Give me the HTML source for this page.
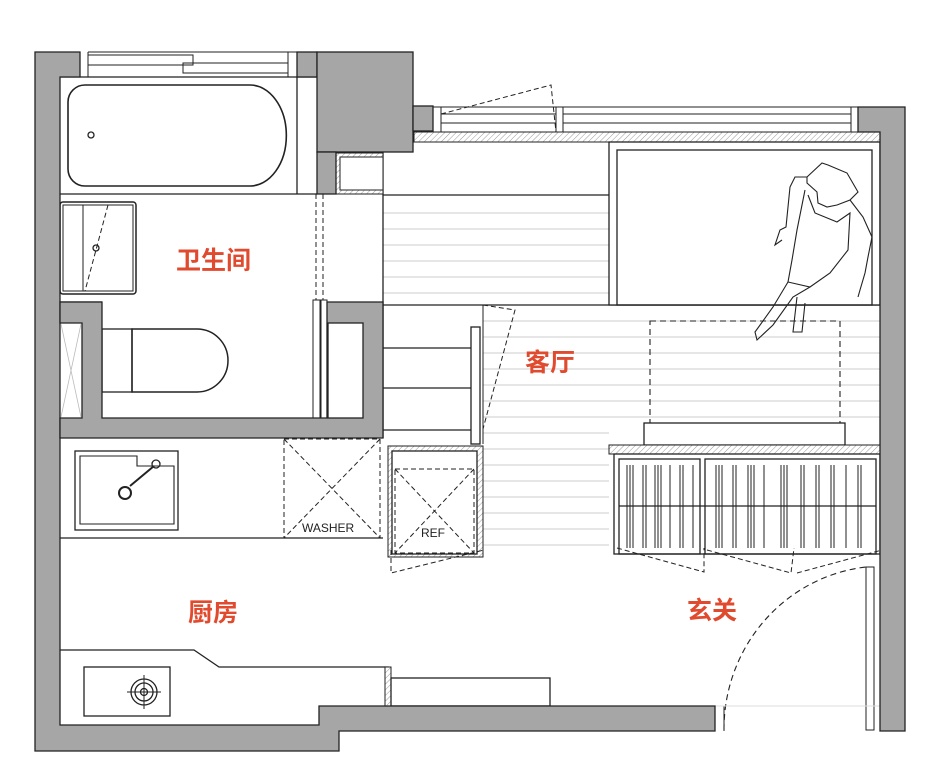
<!DOCTYPE html>
<html><head><meta charset="utf-8"><style>
html,body{margin:0;padding:0;background:#fff;}
svg{display:block;}
.t{font-family:"Liberation Sans","Noto Sans CJK SC",sans-serif;fill:#e04a2e;font-size:25px;font-weight:bold;}
.s{font-family:"Liberation Sans",sans-serif;fill:#222;font-size:12px;}
</style></head><body>
<svg width="930" height="782" viewBox="0 0 930 782" xmlns="http://www.w3.org/2000/svg">
<defs>
<pattern id="h" width="4" height="4" patternUnits="userSpaceOnUse" patternTransform="rotate(45)">
<rect width="4" height="4" fill="#fff"/><line x1="0" y1="0" x2="0" y2="4" stroke="#999" stroke-width="1"/>
</pattern>
</defs>
<rect width="930" height="782" fill="#fff"/>
<g fill="none" stroke="#222" stroke-width="1.3">
<g stroke="#ccc" stroke-width="1">
<line x1="383" y1="213" x2="609" y2="213"/><line x1="383" y1="229" x2="609" y2="229"/><line x1="383" y1="245" x2="609" y2="245"/><line x1="383" y1="261" x2="609" y2="261"/><line x1="383" y1="277" x2="609" y2="277"/><line x1="383" y1="293" x2="609" y2="293"/>
<line x1="483" y1="321" x2="880" y2="321"/><line x1="483" y1="337" x2="880" y2="337"/><line x1="483" y1="353" x2="880" y2="353"/><line x1="483" y1="369" x2="880" y2="369"/><line x1="483" y1="385" x2="880" y2="385"/><line x1="483" y1="401" x2="880" y2="401"/><line x1="483" y1="417" x2="880" y2="417"/><line x1="483" y1="433" x2="609" y2="433"/>
<line x1="483" y1="449" x2="609" y2="449"/><line x1="483" y1="465" x2="609" y2="465"/><line x1="483" y1="481" x2="609" y2="481"/><line x1="483" y1="497" x2="609" y2="497"/><line x1="483" y1="513" x2="609" y2="513"/><line x1="483" y1="529" x2="609" y2="529"/><line x1="483" y1="545" x2="609" y2="545"/>
</g>
<line x1="383" y1="195" x2="609" y2="195"/>
<line x1="383" y1="305" x2="880" y2="305"/>
<line x1="383" y1="152" x2="383" y2="438"/>
<line x1="383" y1="348" x2="471" y2="348"/><line x1="383" y1="388" x2="471" y2="388"/><line x1="383" y1="430" x2="471" y2="430"/>
<rect x="471" y="327" width="9" height="117"/>
<line x1="483" y1="305" x2="483" y2="444" stroke-width="1"/>
<polyline points="483,305 515,310 483,429" stroke-dasharray="5,3" stroke-width="1"/>
<rect x="414" y="132" width="466" height="10" fill="url(#h)" stroke-width="1"/>
<line x1="433" y1="107" x2="858" y2="107" stroke-width="1"/>
<line x1="441" y1="114" x2="851" y2="114" stroke-width="1"/>
<line x1="441" y1="123" x2="851" y2="123" stroke-width="1"/>
<line x1="441" y1="107" x2="441" y2="132" stroke-width="1"/>
<line x1="851" y1="107" x2="851" y2="132" stroke-width="1"/>
<rect x="556" y="107" width="7" height="25" fill="#fff" stroke-width="1"/>
<polyline points="441,114 551,85 556,132" stroke-dasharray="5,3" stroke-width="1"/>
<rect x="609" y="142" width="271" height="163" fill="#fff"/>
<rect x="617" y="150" width="255" height="155"/>
<rect x="650" y="321" width="190" height="102" stroke-dasharray="6,4" stroke-width="1.1"/>
<rect x="644" y="423" width="201" height="22" fill="#fff"/>
<rect x="609" y="445" width="271" height="9" fill="url(#h)" stroke-width="1"/>
<rect x="614" y="454" width="266" height="100" fill="#fff"/>
<rect x="619" y="459" width="81" height="95"/>
<rect x="705" y="459" width="171" height="95"/>
<line x1="619" y1="506" x2="876" y2="506"/>
<g stroke-width="1">
<path d="M627 465V548M630 465V548M633 465V548M643 465V548M646 465V548M655 465V548M658 465V548M661 465V548M670 465V548M680 465V548M683 465V548M693 465V548M716 465V548M719 465V548M722 465V548M733 465V548M736 465V548M748 465V548M751 465V548M754 465V548M764 465V548M781 465V548M784 465V548M787 465V548M801 465V548M804 465V548M816 465V548M819 465V548M831 465V548M834 465V548M846 465V548M858 465V548M861 465V548"/>
</g>
<g stroke-dasharray="5,3" stroke-width="1">
<polyline points="617,548 704,572 704,548"/>
<polyline points="707,550 791,573 794,548"/>
<polyline points="797,573 882,550"/>
</g>
<rect x="388" y="446" width="95" height="111" fill="url(#h)" stroke-width="1"/>
<rect x="392" y="451" width="85" height="103" fill="#fff"/>
<rect x="395" y="469" width="79" height="84" stroke-dasharray="5,3" stroke-width="1"/>
<line x1="395" y1="469" x2="474" y2="553" stroke-dasharray="5,3" stroke-width="1"/>
<line x1="474" y1="469" x2="395" y2="553" stroke-dasharray="5,3" stroke-width="1"/>
<polyline points="391,550 391,573 484,550" stroke-dasharray="5,3" stroke-width="1"/>
<line x1="60" y1="538" x2="383" y2="538"/>
<rect x="75" y="451" width="103" height="79"/>
<path d="M80 456 H137 V466 H174 V524 H80 Z" stroke-width="1.1"/>
<circle cx="125" cy="493" r="6" stroke-width="2"/>
<line x1="130" y1="486" x2="154" y2="466" stroke-width="2"/>
<circle cx="156" cy="464" r="4"/>
<rect x="284" y="439" width="96" height="99" stroke-dasharray="5,3" stroke-width="1"/>
<line x1="284" y1="439" x2="380" y2="538" stroke-dasharray="5,3" stroke-width="1"/>
<line x1="380" y1="439" x2="284" y2="538" stroke-dasharray="5,3" stroke-width="1"/>
<polyline points="60,650 194,650 219,667 388,667 388,706"/>
<rect x="385" y="667" width="6" height="39" fill="url(#h)" stroke-width="1"/>
<rect x="84" y="667" width="86" height="49"/>
<circle cx="144" cy="692" r="13"/><circle cx="144" cy="692" r="9"/><circle cx="144" cy="692" r="3.5"/>
<line x1="144" y1="675" x2="144" y2="709" stroke-width="1"/><line x1="127" y1="692" x2="161" y2="692" stroke-width="1"/>
<rect x="391" y="678" width="159" height="28"/>
<path d="M724 730 A160 163 0 0 1 866 567" stroke-dasharray="6,4" stroke-width="1.1"/>
<rect x="866" y="567" width="8" height="163" stroke-width="1"/>
<line x1="724" y1="706" x2="724" y2="731" stroke-width="1"/>
<line x1="715" y1="706" x2="880" y2="706" stroke="#ddd" stroke-width="1"/>
<line x1="60" y1="194" x2="317" y2="194"/>
<line x1="297" y1="77" x2="297" y2="194"/>
<line x1="60" y1="77" x2="317" y2="77"/>
<path d="M85 85 H250 A36 50 0 0 1 250 186 H85 A17 17 0 0 1 68 169 V102 A17 17 0 0 1 85 85 Z" stroke-width="1.6"/>
<circle cx="91" cy="135" r="3"/>
<line x1="88" y1="52" x2="297" y2="52" stroke-width="1"/>
<rect x="88" y="55" width="105" height="10" stroke-width="1"/>
<rect x="183" y="63" width="105" height="10" stroke-width="1"/>
<line x1="88" y1="52" x2="88" y2="77" stroke-width="1"/>
<line x1="288" y1="52" x2="288" y2="77" stroke-width="1"/>
<rect x="60" y="202" width="76" height="92" rx="3" stroke-width="1.5"/>
<rect x="63" y="205" width="70" height="86" stroke-width="1"/>
<line x1="83" y1="205" x2="83" y2="291" stroke-width="1"/>
<line x1="108" y1="205" x2="85" y2="291" stroke-dasharray="5,3" stroke-width="1"/>
<circle cx="96" cy="248" r="3"/>
<line x1="60" y1="302" x2="102" y2="302"/>
<rect x="102" y="329" width="30" height="63" stroke-width="1.3"/>
<path d="M132 329 H197 A31 31.5 0 0 1 197 392 H132 Z" stroke-width="1.5"/>
<line x1="316" y1="194" x2="316" y2="300" stroke-dasharray="5,3" stroke-width="1"/>
<line x1="323" y1="194" x2="323" y2="300" stroke-dasharray="5,3" stroke-width="1"/>
<rect x="313" y="300" width="7" height="118" stroke-width="1"/>
<rect x="321" y="300" width="6" height="118" stroke-width="1"/>
<rect x="336" y="153" width="47" height="41" fill="url(#h)" stroke-width="1"/>
<rect x="340" y="157" width="43" height="33" fill="#fff" stroke-width="1"/>
</g>
<g fill="#a6a6a6" stroke="#222" stroke-width="1.3">
<polygon points="35,52 80,52 80,77 60,77 60,725 319,725 319,706 715,706 715,731 339,731 339,751 35,751"/>
<rect x="297" y="52" width="20" height="25"/>
<rect x="317" y="52" width="96" height="100"/>
<rect x="317" y="152" width="19" height="42"/>
<rect x="413" y="106" width="20" height="25"/>
<polygon points="858,107 905,107 905,731 880,731 880,132 858,132"/>
<polygon points="60,302 102,302 102,418 327,418 327,302 383,302 383,438 60,438 60,418 82,418 82,323 60,323"/>
</g>
<rect x="328" y="323" width="35" height="95" fill="#fff" stroke="#222" stroke-width="1.3"/>
<rect x="61" y="324" width="20" height="93" fill="#fff"/>
<path d="M61 324 L81 417 M81 324 L61 417" stroke="#bbb" stroke-width="0.8"/>
<g fill="none" stroke="#222" stroke-width="1.1">
<polygon points="807,177 822,163 828,165 847,173 858,192 850,200 837,205 827,207 818,203 817,192 807,183"/>
<polyline points="807,177 795,177 790,187 786,227 780,230 775,245 782,240"/>
<polyline points="850,200 863,217 872,237 868,257 865,273 860,290 858,297"/>
<polyline points="805,190 797,230 792,260 788,282 810,287 830,273 848,250 850,213 837,222 815,213 808,195"/>
<polyline points="788,282 773,307 755,332 757,340 773,325 793,297 810,287"/>
<polyline points="797,297 793,332 802,332 805,303"/>
</g>
<text class="t" x="176" y="269">卫生间</text>
<text class="t" x="525" y="371">客厅</text>
<text class="t" x="188" y="621">厨房</text>
<text class="t" x="687" y="619">玄关</text>
<text class="s" x="302" y="532">WASHER</text>
<text class="s" x="421" y="537">REF</text>
</svg>
</body></html>
